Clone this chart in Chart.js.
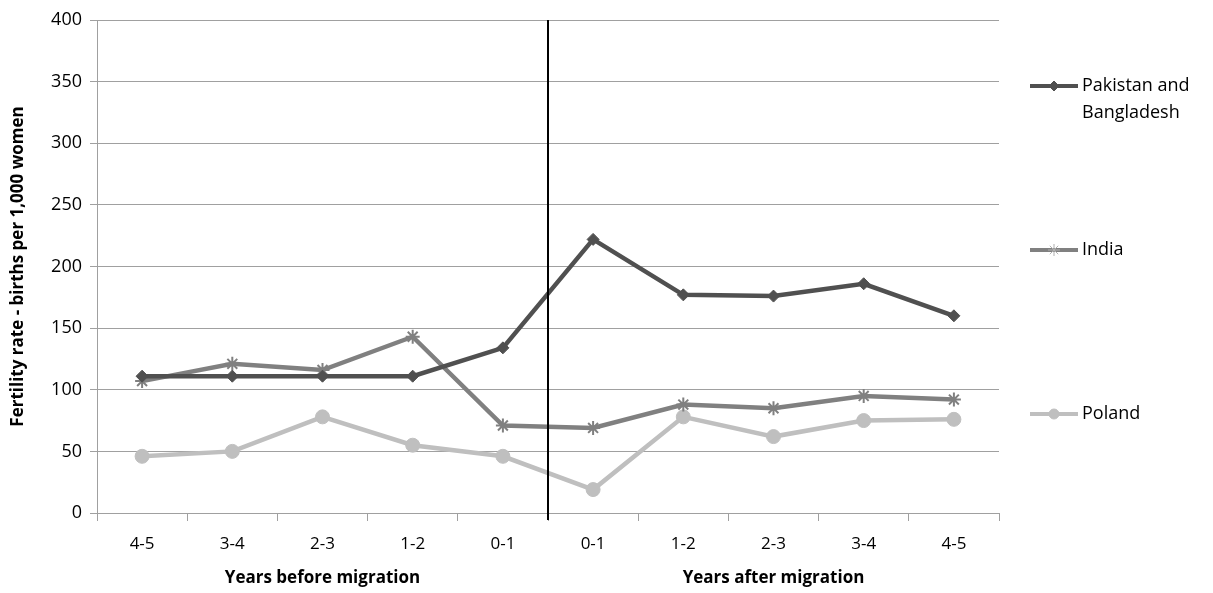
<!DOCTYPE html>
<html>
<head>
<meta charset="utf-8">
<script src="https://cdn.jsdelivr.net/npm/chart.js@4"></script>
<style>
  html, body { margin: 0; padding: 0; background: #fff; }
  #wrap { width: 1213px; height: 593px; position: relative; }
</style>
</head>
<body>
<div id="wrap"><canvas id="c" width="1213" height="593"></canvas></div>
<script>
const categories = ["4-5", "3-4", "2-3", "1-2", "0-1", "0-1", "1-2", "2-3", "3-4", "4-5"];
const groupLabels = ["Years before migration", "Years after migration"];
const groupSize = 5;
const seriesNames = [["Pakistan and", "Bangladesh"], ["India"], ["Poland"]];
const pakistanBangladesh = [111, 111, 111, 111, 134, 222, 177, 176, 186, 160];
const india = [107, 121, 116, 143, 71, 69, 88, 85, 95, 92];
const poland = [46, 50, 78, 55, 46, 19, 78, 62, 75, 76];
const yTicks = [0, 50, 100, 150, 200, 250, 300, 350, 400];
const yTitle = "Fertility rate - births per 1,000 women";

const FONT = "'Open Sans', 'Liberation Sans', sans-serif";
const colors = ["#505050", "#808080", "#bfbfbf"];
const styles = ["rectRot", "star", "circle"];
const radii = [6, 7, 7];

const datasets = [pakistanBangladesh, india, poland].map((d, i) => ({
  label: seriesNames[i].join(" "),
  data: d,
  borderColor: colors[i],
  backgroundColor: colors[i],
  borderWidth: 4.5,
  pointStyle: styles[i],
  pointRadius: radii[i],
  pointBorderWidth: i === 1 ? 2 : 1,
  pointBorderColor: colors[i],
  pointBackgroundColor: colors[i],
  tension: 0,
  fill: false
}));
datasets[0].order = 1; datasets[1].order = 2; datasets[2].order = 3;

const extras = {
  id: "extras",
  afterDraw(chart) {
    const ctx = chart.ctx;
    const x = chart.scales.x, ca = chart.chartArea;
    const xm = (x.getPixelForValue(groupSize - 1) + x.getPixelForValue(groupSize)) / 2;
    ctx.save();
    ctx.strokeStyle = "#000";
    ctx.lineWidth = 2;
    ctx.beginPath();
    ctx.moveTo(Math.round(xm), ca.top);
    ctx.lineTo(Math.round(xm), ca.bottom + 7);
    ctx.stroke();
    ctx.fillStyle = "#000";
    ctx.font = "bold 17px " + FONT;
    ctx.textAlign = "center";
    ctx.textBaseline = "middle";
    groupLabels.forEach((g, gi) => {
      const a = x.getPixelForValue(gi * groupSize);
      const b = x.getPixelForValue(gi * groupSize + groupSize - 1);
      ctx.fillText(g, (a + b) / 2, ca.bottom + 65);
    });
    ctx.font = "18px " + FONT;
    ctx.textAlign = "left";
    const lx0 = ca.right + 31, lx1 = ca.right + 79, tx = ca.right + 83;
    seriesNames.forEach((lines, i) => {
      const y = 86 + i * 164;
      ctx.strokeStyle = colors[i];
      ctx.lineWidth = 4;
      ctx.beginPath();
      ctx.moveTo(lx0, y); ctx.lineTo(lx1, y);
      ctx.stroke();
      ctx.fillStyle = colors[i];
      ctx.strokeStyle = i === 1 ? "#b0b0b0" : colors[i];
      ctx.lineWidth = 1;
      Chart.helpers.drawPoint(ctx, {
        pointStyle: styles[i], radius: i === 1 ? 6 : 5, rotation: 0, borderWidth: 1
      }, (lx0 + lx1) / 2, y);
      ctx.fillStyle = "#000";
      lines.forEach((t, li) => ctx.fillText(t, tx, y + li * 27));
    });
    ctx.restore();
  }
};

new Chart(document.getElementById("c"), {
  type: "line",
  data: { labels: categories, datasets },
  options: {
    responsive: false,
    animation: false,
    layout: { padding: { top: 20, right: 214, left: 8, bottom: 0 } },
    plugins: { legend: { display: false }, tooltip: { enabled: false } },
    scales: {
      x: {
        offset: true,
        grid: { offset: true, drawOnChartArea: false, drawTicks: true, tickLength: 8, color: "#a0a0a0", lineWidth: 1 },
        border: { color: "#a0a0a0", width: 1 },
        ticks: { color: "#000", font: { family: FONT, size: 17 }, padding: 13, maxRotation: 0, autoSkip: false },
        afterFit(s) { s.height = 80; }
      },
      y: {
        min: 0, max: 400,
        afterBuildTicks(s) { s.ticks = yTicks.map(v => ({ value: v })); },
        grid: { color: "#a0a0a0", lineWidth: 1, tickLength: 7 },
        border: { color: "#a0a0a0", width: 1 },
        ticks: { color: "#000", font: { family: FONT, size: 18 }, padding: 8 },
        title: { display: true, text: yTitle, color: "#000", font: { family: FONT, size: 17, weight: "bold" }, padding: { top: 0, bottom: 6 } },
        afterFit(s) { s.width = 89; }
      }
    }
  },
  plugins: [extras]
});
</script>
</body>
</html>
